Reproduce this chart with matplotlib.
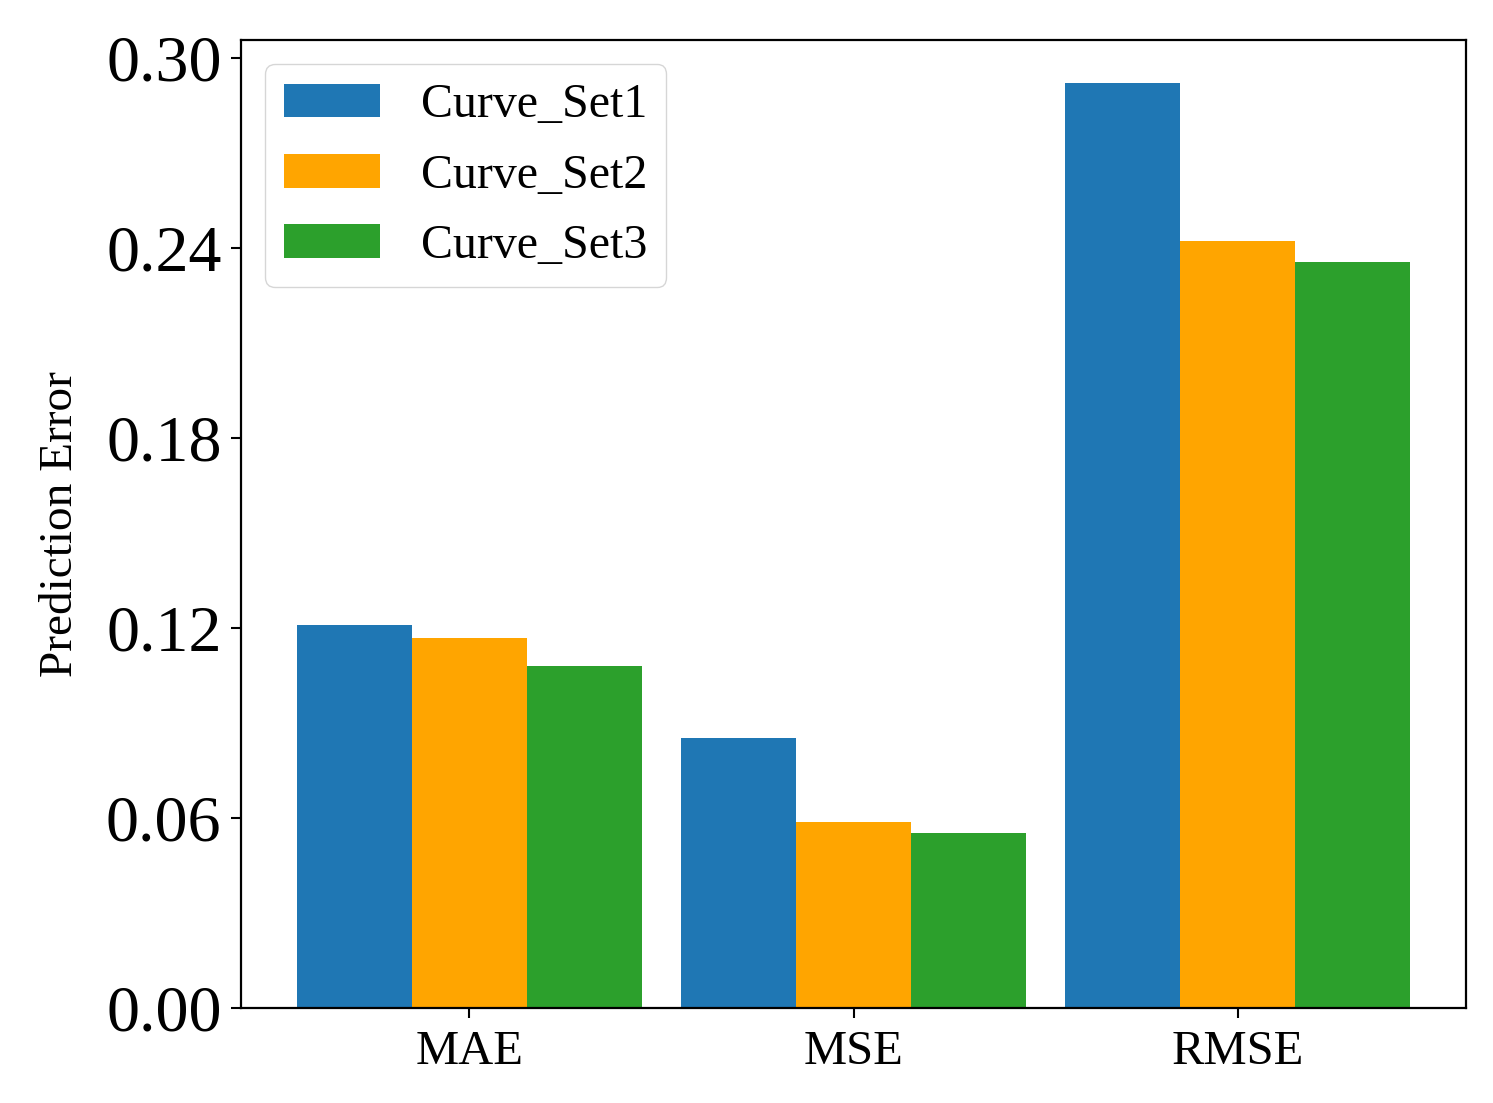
import numpy as np
import matplotlib.pyplot as plt

plt.rcParams['font.family'] = ['Liberation Serif', 'DejaVu Serif']

metrics = ['MAE', 'MSE', 'RMSE']
curve_set1 = [0.1209, 0.0853, 0.2921]
curve_set2 = [0.1168, 0.0587, 0.2422]
curve_set3 = [0.1080, 0.0553, 0.2356]
labels = ['Curve_Set1', 'Curve_Set2', 'Curve_Set3']
colors = ['#1f77b4', 'orange', '#2ca02c']

fig = plt.figure(figsize=(14.93, 11.03), dpi=100)
ax = fig.add_axes([0.1614, 0.0861, 0.8206, 0.8776])

x = np.arange(len(metrics))
w = 0.3
for i, vals in enumerate([curve_set1, curve_set2, curve_set3]):
    ax.bar(x + (i - 1) * w, vals, w, color=colors[i], label=labels[i])

ax.set_xticks(x)
ax.set_xticklabels(metrics, fontsize=35)
ax.set_yticks([0.0, 0.06, 0.12, 0.18, 0.24, 0.30])
ax.set_yticklabels(['0.00', '0.06', '0.12', '0.18', '0.24', '0.30'], fontsize=47.5)
ax.set_ylim(0, 0.3057)
ax.set_ylabel('Prediction Error', fontsize=34, labelpad=17)
ax.tick_params(axis='y', length=7, width=1.5, pad=7)
ax.tick_params(axis='x', length=7, width=1.5, pad=9)
for s in ax.spines.values():
    s.set_linewidth(1.6)

ax.legend(loc='upper left', fontsize=34.5, handletextpad=0.85, borderpad=0.4,
          labelspacing=0.55, handlelength=2.0)

fig.savefig('out.png', dpi=100)
